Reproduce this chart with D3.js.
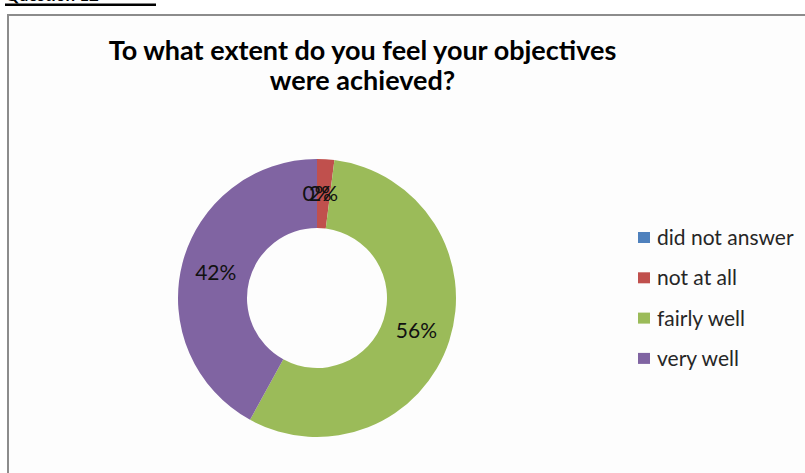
<!DOCTYPE html>
<html>
<head>
<meta charset="utf-8">
<script src="https://cdn.jsdelivr.net/npm/d3@7"></script>
<style>
  html, body { margin: 0; padding: 0; background: #ffffff; }
  svg { display: block; }
</style>
</head>
<body>
<svg id="chart" width="805" height="473"></svg>
<script>
// Survey answers (percent of respondents)
const categories = ["did not answer", "not at all", "fairly well", "very well"];
const values = [0, 2, 56, 42];
const colors = ["#4F81BD", "#C0504D", "#9BBB59", "#8064A2"];
const titleLines = ["To what extent do you feel your objectives", "were achieved?"];

const svg = d3.select("#chart");
const W = 805, H = 473;

// Heading above the chart area (cropped at the top edge)
svg.append("text")
  .attr("x", 5).attr("y", 0.5)
  .attr("font-family", "Lato, 'Open Sans', sans-serif")
  .attr("font-weight", "bold")
  .attr("font-size", 17)
  .attr("fill", "#000")
  .text("Question 12");
svg.append("rect")
  .attr("x", 5).attr("y", 3.5).attr("width", 151).attr("height", 2.5)
  .attr("fill", "#000");

// Chart frame
svg.append("rect")
  .attr("x", 8).attr("y", 15).attr("width", W).attr("height", H)
  .attr("fill", "#fdfdfd")
  .attr("stroke", "#8c8c8c")
  .attr("stroke-width", 2);

// Title
const title = svg.append("text")
  .attr("text-anchor", "middle")
  .attr("font-family", "Lato, 'Open Sans', sans-serif")
  .attr("font-weight", "bold")
  .attr("font-size", 27)
  .attr("fill", "#000");
title.selectAll("tspan")
  .data(titleLines)
  .join("tspan")
  .attr("x", 362.5)
  .attr("y", (d, i) => 60 + i * 29.5)
  .text(d => d);

// Doughnut
const cx = 317, cy = 298, rOuter = 139, rInner = 70;
const pie = d3.pie().sort(null).value(d => d.value);
const arcs = pie(categories.map((c, i) => ({ name: c, value: values[i], color: colors[i] })));
const arc = d3.arc().innerRadius(rInner).outerRadius(rOuter);

const g = svg.append("g").attr("transform", `translate(${cx},${cy})`);
g.selectAll("path.slice")
  .data(arcs)
  .join("path")
  .attr("class", "slice")
  .attr("d", arc)
  .attr("fill", d => d.data.color);

g.selectAll("text.pct")
  .data(arcs)
  .join("text")
  .attr("class", "pct")
  .attr("transform", d => {
    const [x, y] = arc.centroid(d);
    return `translate(${x},${y})`;
  })
  .attr("text-anchor", "middle")
  .attr("dy", "0.36em")
  .attr("font-family", "Lato, 'Open Sans', sans-serif")
  .attr("font-size", 21)
  .attr("fill", "#111")
  .text(d => d.data.value + "%");

// Legend
const legend = svg.append("g").attr("transform", "translate(638,0)");
const rows = legend.selectAll("g")
  .data(categories)
  .join("g")
  .attr("transform", (d, i) => `translate(0,${237.5 + i * 40.3})`);
rows.append("rect")
  .attr("x", 0).attr("y", -5.5)
  .attr("width", 12).attr("height", 11)
  .attr("fill", (d, i) => colors[i]);
rows.append("text")
  .attr("x", 19).attr("y", 7.5)
  .attr("font-family", "Lato, 'Open Sans', sans-serif")
  .attr("font-size", 21)
  .attr("fill", "#262626")
  .text(d => d);
</script>
</body>
</html>
